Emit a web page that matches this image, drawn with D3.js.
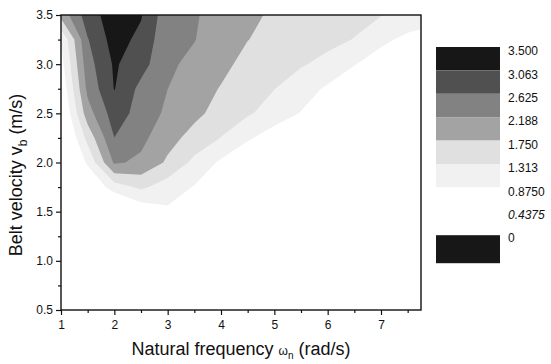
<!DOCTYPE html>
<html><head><meta charset="utf-8">
<script src="https://cdn.jsdelivr.net/npm/d3@7"></script>
<style>
body{margin:0;background:#fff}
text{font-family:"Liberation Sans",Arial,sans-serif;fill:#111}
</style>
</head><body>
<svg id="c" width="551" height="364"></svg>
<script>
// grid columns (natural frequency, rad/s) and rows (belt velocity, m/s, top to bottom)
const xGrid = [1.0,1.5,2.0,2.5,3.0,3.5,4.0,4.5,5.0,5.5,6.0,6.5,7.0,7.5,8.0];
const yGrid = [3.5,3.25,3.0,2.75,2.5,2.25,2.0,1.75,1.5,1.25,1.0,0.75,0.5];
const zRows = [
  [1.9, 2.85, 3.3, 3.1, 2.35, 2.23, 2.02, 1.85, 1.68, 1.6, 1.5, 1.42, 1.33, 1.2, 1.1],
  [0.9, 2.6, 3.25, 2.95, 2.3, 2.2, 2.0, 1.76, 1.6, 1.5, 1.42, 1.3, 1.0, 0.75, 0.6],
  [0.7, 2.45, 3.12, 2.8, 2.25, 2.1, 1.88, 1.6, 1.48, 1.35, 1.2, 0.9, 0.6, 0.4, 0.3],
  [0.5, 2.3, 3.08, 2.5, 2.19, 1.98, 1.72, 1.5, 1.32, 1.1, 0.8, 0.5, 0.3, 0.2, 0.1],
  [0.3, 2.0, 2.85, 2.45, 2.1, 1.85, 1.6, 1.36, 1.15, 0.85, 0.5, 0.3, 0.2, 0.1, 0],
  [0.1, 1.45, 2.62, 2.3, 1.9, 1.6, 1.3, 0.95, 0.6, 0.3, 0.1, 0, 0, 0, 0],
  [0, 0.95, 2.25, 2.1, 1.68, 1.2, 0.8, 0.4, 0.15, 0, 0, 0, 0, 0, 0],
  [0, 0.4, 1.1, 1.4, 1.1, 0.85, 0.4, 0.1, 0, 0, 0, 0, 0, 0, 0],
  [0, 0, 0.1, 0.55, 0.8, 0.55, 0.2, 0, 0, 0, 0, 0, 0, 0, 0],
  [0, 0, 0, 0, 0, 0, 0, 0, 0, 0, 0, 0, 0, 0, 0],
  [0, 0, 0, 0, 0, 0, 0, 0, 0, 0, 0, 0, 0, 0, 0],
  [0, 0, 0, 0, 0, 0, 0, 0, 0, 0, 0, 0, 0, 0, 0],
  [0, 0, 0, 0, 0, 0, 0, 0, 0, 0, 0, 0, 0, 0, 0]
];
const levels = [0.875, 1.313, 1.75, 2.188, 2.625, 3.063];
const legendValues = [3.5, 3.063, 2.625, 2.188, 1.75, 1.313, 0.875, 0.4375, 0];
const legendLabels = ["3.500","3.063","2.625","2.188","1.750","1.313","0.8750","0.4375","0"];
const xTicks = [1,2,3,4,5,6,7];
const xMinor = [1.5,2.5,3.5,4.5,5.5,6.5,7.5];
const yTicks = [0.5,1.0,1.5,2.0,2.5,3.0,3.5];
const yMinor = [0.75,1.25,1.75,2.25,2.75,3.25];

const levelColors = ["#f1f1f1","#e0e0e0","#a3a3a3","#828282","#505050","#171717"];
const legendColors = ["#171717","#505050","#828282","#a3a3a3","#e0e0e0","#f1f1f1","#ffffff","#ffffff"];

const svg = d3.select("#c");
const L = 61, R = 421, T = 15, B = 310;
const x = d3.scaleLinear().domain([1, 7.75]).range([L, R]);
const y = d3.scaleLinear().domain([0.5, 3.5]).range([B, T]);

const n = xGrid.length, m = yGrid.length;
const gx = d3.scaleLinear().domain([0.5, n - 0.5]).range([x(xGrid[0]), x(xGrid[n-1])]);
const gy = d3.scaleLinear().domain([0.5, m - 0.5]).range([y(yGrid[0]), y(yGrid[m-1])]);

svg.append("defs").append("clipPath").attr("id","clip")
  .append("rect").attr("x",L).attr("y",T).attr("width",R-L).attr("height",B-T);

const values = zRows.flat();
const contours = d3.contours().size([n, m]).thresholds(levels)(values);
const proj = d3.geoTransform({point(px, py){ this.stream.point(gx(px), gy(py)); }});
const path = d3.geoPath(proj);

svg.append("g").attr("clip-path","url(#clip)")
  .selectAll("path").data(contours).join("path")
  .attr("d", path)
  .attr("fill", (d,i) => levelColors[i])
  .attr("stroke", "none");

// axes
const fmt1 = d3.format(".1f");
svg.append("g").attr("transform",`translate(0,${B})`)
  .call(d3.axisBottom(x).tickValues(xTicks).tickSize(5).tickPadding(5).tickFormat(d3.format("d")));
svg.append("g").attr("transform",`translate(0,${B})`)
  .call(d3.axisBottom(x).tickValues(xMinor).tickSize(3).tickFormat(""))
  .select(".domain").remove();
svg.append("g").attr("transform",`translate(${L},0)`)
  .call(d3.axisLeft(y).tickValues(yTicks).tickSize(5).tickPadding(3).tickFormat(fmt1));
svg.append("g").attr("transform",`translate(${L},0)`)
  .call(d3.axisLeft(y).tickValues(yMinor).tickSize(3).tickFormat(""))
  .select(".domain").remove();
svg.selectAll(".tick text").attr("font-size", 12).attr("font-family",'"Liberation Sans",Arial,sans-serif').attr("fill","#111");
svg.selectAll(".tick line").attr("stroke","#111").attr("stroke-width",1.2);
svg.selectAll(".domain").attr("stroke","none");

// frame
svg.append("rect").attr("x",L).attr("y",T).attr("width",R-L).attr("height",B-T)
  .attr("fill","none").attr("stroke","#111").attr("stroke-width",1.4);

// axis titles
const xt = svg.append("text").attr("x", 241).attr("y", 355).attr("text-anchor","middle").attr("font-size",18);
xt.append("tspan").text("Natural frequency ");
xt.append("tspan").attr("font-size",12).text("ω");
xt.append("tspan").attr("font-size",10).attr("dy",4).text("n");
xt.append("tspan").attr("dy",-4).text(" (rad/s)");

const yt = svg.append("text").attr("transform","translate(22,175) rotate(-90)")
  .attr("text-anchor","middle").attr("font-size",18);
yt.append("tspan").text("Belt velocity v");
yt.append("tspan").attr("font-size",12).attr("dy",5).text("b");
yt.append("tspan").attr("dy",-5).text(" (m/s)");

// legend
const ly = d3.scaleLinear().domain([3.5, 0]).range([47, 47 + 8*23.4]);
const lg = svg.append("g");
for (let i = 0; i < legendValues.length - 1; i++) {
  lg.append("rect").attr("x",436).attr("width",64)
    .attr("y", ly(legendValues[i])).attr("height", ly(legendValues[i+1]) - ly(legendValues[i]))
    .attr("fill", legendColors[i]);
}
lg.append("rect").attr("x",436).attr("width",64)
  .attr("y", ly(0) + 1).attr("height", 28).attr("fill","#171717");
lg.selectAll("text.lab").data(legendValues).join("text").attr("class","lab")
  .attr("x", 508).attr("y", d => ly(d) + 4).attr("dy","0.35em")
  .attr("font-size", 12)
  .attr("font-style", (d,i) => legendLabels[i] === "0.4375" ? "italic" : "normal")
  .text((d,i) => legendLabels[i]);
</script>
</body></html>
